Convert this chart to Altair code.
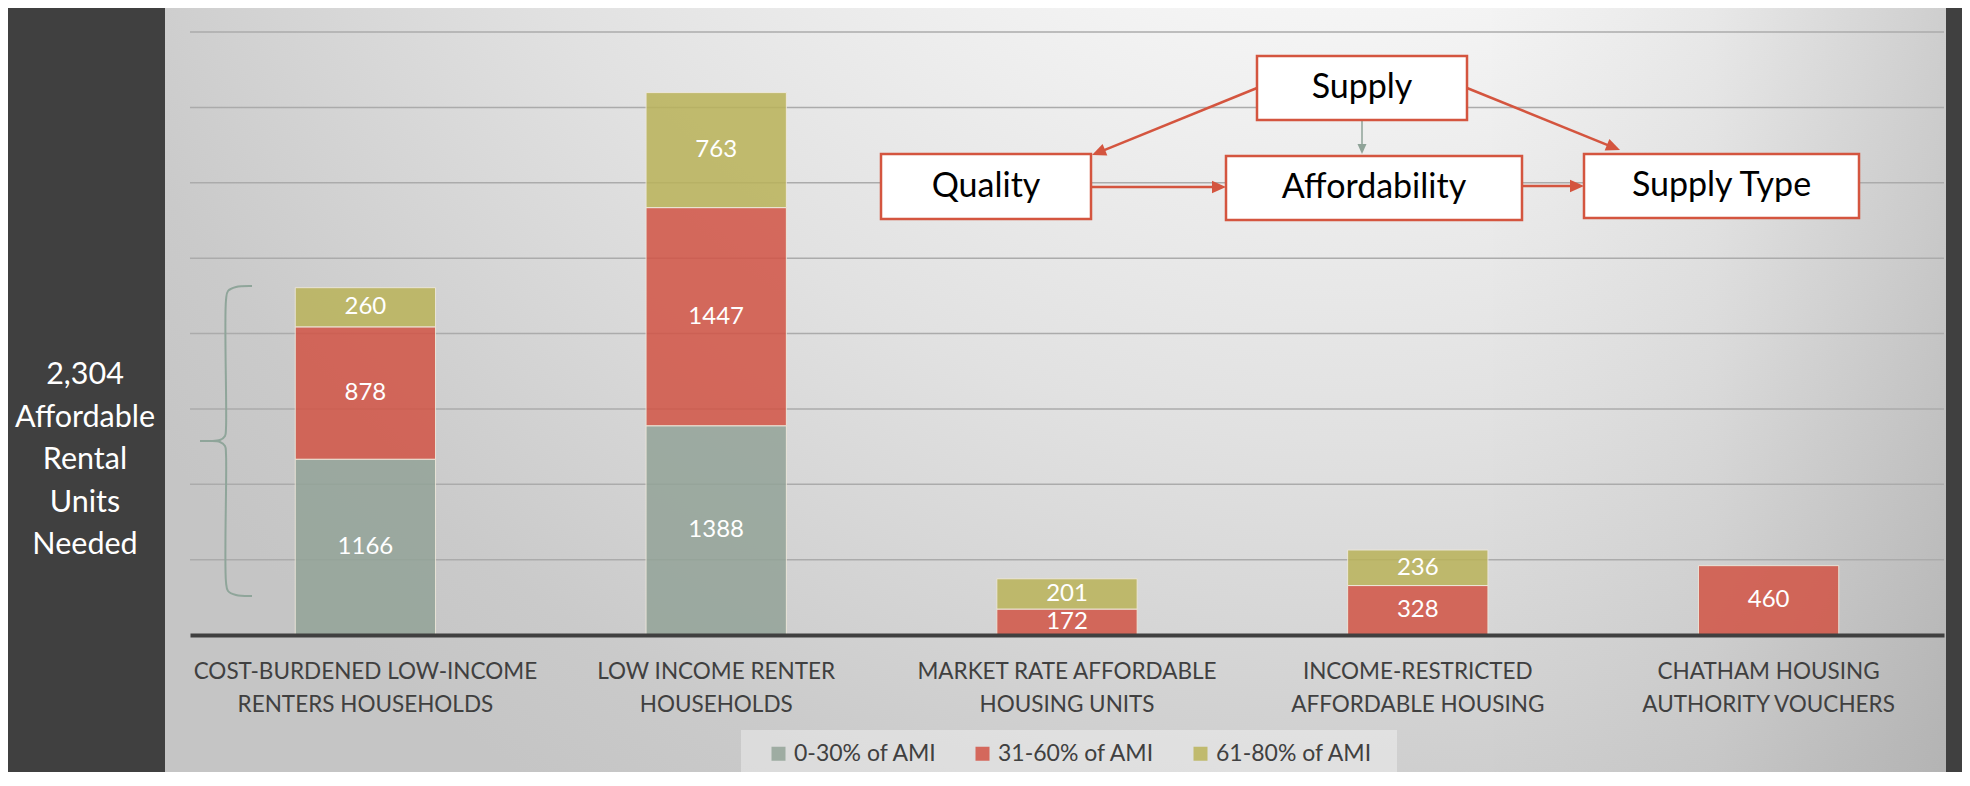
import math
import altair as alt
import pandas as pd

# ---------------- data ----------------
categories = [
    "COST-BURDENED LOW-INCOME\nRENTERS HOUSEHOLDS",
    "LOW INCOME RENTER\nHOUSEHOLDS",
    "MARKET RATE AFFORDABLE\nHOUSING UNITS",
    "INCOME-RESTRICTED\nAFFORDABLE HOUSING",
    "CHATHAM HOUSING\nAUTHORITY VOUCHERS",
]
series_names = ["0-30% of AMI", "31-60% of AMI", "61-80% of AMI"]
ami_0_30 = [1166, 1388, 0, 0, 0]
ami_31_60 = [878, 1447, 172, 328, 460]
ami_61_80 = [260, 763, 201, 236, 0]
series_colors = ["#93a398", "#d25445", "#bab359"]
grid_values = [500, 1000, 1500, 2000, 2500, 3000, 3500, 4000]
y_domain = [0, 4000]

side_note = "2,304\nAffordable\nRental\nUnits\nNeeded"

# diagram (annotation) boxes and arrows, in pixels of the plot area
box_labels = ["Supply", "Quality", "Affordability", "Supply Type"]
box_x1 = [1067, 691, 1036, 1394]
box_x2 = [1277, 901, 1332, 1669]
box_y1 = [24, 122, 124, 122]
box_y2 = [88, 187, 188, 186]

RED = "#d4553f"
SAGE = "#8fa398"
arrow_x1 = [1067, 1172, 1277, 902, 1318]
arrow_y1 = [56, 88, 56, 155, 154]
arrow_x2 = [902, 1172, 1430, 1036, 1394]
arrow_y2 = [123, 122, 118, 155, 154]
arrow_color = [RED, SAGE, RED, RED, RED]
arrow_width = [2.5, 1.5, 2.5, 2.5, 2.5]
arrow_head = [14, 10, 14, 14, 14]

# curly bracket (annotation), pixels of the plot area
brace_upper_x = [62, 46, 38, 36, 36, 35, 30, 20, 10]
brace_upper_y = [254, 255, 259, 268, 396, 404, 408, 409, 409]
brace_lower_x = [10, 20, 30, 35, 36, 36, 38, 46, 62]
brace_lower_y = [409, 409, 410, 414, 422, 550, 559, 563, 564]

# ---------------- layout ----------------
W, H = 1754, 603
PAD = {"left": 182, "top": 24, "right": 18, "bottom": 137}
FONT = "Lato"

one = pd.DataFrame({"k": [0]})

# ---------------- bars ----------------
rows = []
for i, c in enumerate(categories):
    for j, vals in enumerate([ami_0_30, ami_31_60, ami_61_80]):
        rows.append({"category": c, "series": series_names[j], "order": j, "value": vals[i]})
df = pd.DataFrame(rows)

y_scale = alt.Scale(domain=y_domain, nice=False, zero=True)

base = (
    alt.Chart(df)
    .transform_filter("datum.value > 0")
    .transform_stack(stack="value", groupby=["category"], as_=["v0", "v1"],
                     sort=[alt.SortField("order", order="ascending")])
    .transform_calculate(mid="(datum.v0 + datum.v1) / 2")
)

x_enc = alt.X(
    "category:N", sort=categories,
    scale=alt.Scale(paddingInner=0.6, paddingOuter=0.3),
    axis=alt.Axis(
        title=None, labelAngle=0, labelExpr="split(datum.label, '\\n')",
        labelFont=FONT, labelFontSize=22.5, labelColor="#404040", labelLineHeight=33,
        labelPadding=25, labelLimit=0, ticks=False, grid=False,
        domainColor="#404040", domainWidth=4, zindex=1,
    ),
)

bars = base.mark_bar(opacity=0.85, stroke="#efe8da", strokeWidth=1).encode(
    x=x_enc,
    y=alt.Y("v0:Q", scale=y_scale, axis=None),
    y2="v1:Q",
    color=alt.Color(
        "series:N",
        scale=alt.Scale(domain=series_names, range=series_colors),
        legend=alt.Legend(
            orient="none", legendX=577, legendY=710, direction="horizontal", title=None,
            symbolType="square", symbolSize=196, symbolStrokeWidth=0, symbolOpacity=0.85,
            labelFont=FONT, labelFontSize=23, labelColor="#404040", labelOffset=4,
            columnPadding=34, padding=0, zindex=1, labelLimit=0,
        ),
    ),
    order=alt.Order("order:Q"),
)

labels = base.mark_text(color="white", font=FONT, fontSize=24, baseline="middle").encode(
    x=alt.X("category:N", sort=categories),
    y=alt.Y("mid:Q", scale=y_scale),
    text="value:Q",
)

# ---------------- background ----------------
bg = alt.Chart(one).mark_rect(
    fill={
        "gradient": "radial",
        "x1": 0.66, "y1": 0.0, "r1": 0,
        "x2": 0.66, "y2": 0.0, "r2": 0.85,
        "stops": [
            {"offset": 0, "color": "#ffffff"},
            {"offset": 0.3, "color": "#f7f7f7"},
            {"offset": 0.62, "color": "#e1e1e1"},
            {"offset": 0.9, "color": "#cacaca"},
            {"offset": 1, "color": "#c5c5c5"},
        ],
    }
).encode(x=alt.value(-25), x2=alt.value(1756), y=alt.value(-24), y2=alt.value(740))

vignette = alt.Chart(one).mark_rect(
    fill={
        "gradient": "linear", "x1": 0, "y1": 0, "x2": 1, "y2": 0,
        "stops": [
            {"offset": 0, "color": "rgba(60,60,60,0)"},
            {"offset": 0.5, "color": "rgba(60,60,60,0.04)"},
            {"offset": 1, "color": "rgba(60,60,60,0.15)"},
        ],
    }
).encode(x=alt.value(1290), x2=alt.value(1756), y=alt.value(-24), y2=alt.value(740))

grid = alt.Chart(pd.DataFrame({"g": grid_values})).mark_rule(color="#ababab", strokeWidth=1.5).encode(
    y=alt.Y("g:Q", scale=y_scale, axis=None), x=alt.value(0), x2=alt.value(W)
)

# ---------------- bracket & side text ----------------
brace_rows = []
for k, (xs, ys) in enumerate([(brace_upper_x, brace_upper_y), (brace_lower_x, brace_lower_y)]):
    for i, (bx, by) in enumerate(zip(xs, ys)):
        brace_rows.append({"part": k, "i": i, "bx": bx, "by": by})
bracket = alt.Chart(pd.DataFrame(brace_rows)).mark_line(
    interpolate="catmull-rom", strokeWidth=2, color="#8fa59a"
).encode(
    x=alt.X("bx:Q", scale=None), y=alt.Y("by:Q", scale=None),
    detail="part:N", order="i:Q",
)

side = alt.Chart(pd.DataFrame({"t": [side_note]})).mark_text(
    font=FONT, fontSize=30.5, color="white", align="center", baseline="middle",
    lineBreak="\n", lineHeight=42.5,
).encode(x=alt.value(-105), y=alt.value(343), text="t:N")

legend_bg = alt.Chart(one).mark_rect(fill="#ffffff", opacity=0.35).encode(
    x=alt.value(551), x2=alt.value(1207), y=alt.value(698), y2=alt.value(740)
)

# ---------------- diagram ----------------
arr_rows = []
for x1, y1, x2, y2, col, sw, hl in zip(arrow_x1, arrow_y1, arrow_x2, arrow_y2,
                                         arrow_color, arrow_width, arrow_head):
    dx, dy = x2 - x1, y2 - y1
    L = math.hypot(dx, dy)
    ux, uy = dx / L, dy / L
    arr_rows.append({
        "x1": x1, "y1": y1,
        "sx": x2 - ux * hl * 0.8, "sy": y2 - uy * hl * 0.8,
        "hx": x2 - ux * hl / 2, "hy": y2 - uy * hl / 2,
        "ang": (math.degrees(math.atan2(dx, -dy)) + 360) % 360,
        "hs": hl * hl, "col": col, "sw": sw,
    })
arr_df = pd.DataFrame(arr_rows)

shafts = alt.Chart(arr_df).mark_rule().encode(
    x=alt.X("x1:Q", scale=None), y=alt.Y("y1:Q", scale=None),
    x2="sx:Q", y2="sy:Q",
    stroke=alt.Stroke("col:N", scale=None),
    strokeWidth=alt.StrokeWidth("sw:Q", scale=None),
)
heads = alt.Chart(arr_df).mark_point(
    shape="M0,-1L0.9,1L-0.9,1Z", filled=True, strokeWidth=0, opacity=1
).encode(
    x=alt.X("hx:Q", scale=None), y=alt.Y("hy:Q", scale=None),
    angle=alt.Angle("ang:Q", scale=None),
    size=alt.Size("hs:Q", scale=None),
    fill=alt.Fill("col:N", scale=None),
)

box_df = pd.DataFrame({"label": box_labels, "x1": box_x1, "x2": box_x2, "y1": box_y1, "y2": box_y2})
box_df["cx"] = (box_df["x1"] + box_df["x2"]) / 2
box_df["cy"] = (box_df["y1"] + box_df["y2"]) / 2

boxes = alt.Chart(box_df).mark_rect(fill="white", stroke=RED, strokeWidth=2.5).encode(
    x=alt.X("x1:Q", scale=None), x2="x2:Q",
    y=alt.Y("y1:Q", scale=None), y2="y2:Q",
)
box_text = alt.Chart(box_df).mark_text(
    font=FONT, fontSize=34, color="black", align="center", baseline="middle"
).encode(
    x=alt.X("cx:Q", scale=None), y=alt.Y("cy:Q", scale=None), text="label:N"
)

chart = alt.layer(
    bg, vignette, grid, bars, labels, bracket, side, legend_bg,
    shafts, heads, boxes, box_text,
).properties(
    width=W, height=H, padding=PAD,
    autosize=alt.AutoSizeParams(type="none"),
    background="#404040",
).configure_view(stroke=None)

chart.save("out.html", embed_options={"renderer": "svg", "actions": False})
